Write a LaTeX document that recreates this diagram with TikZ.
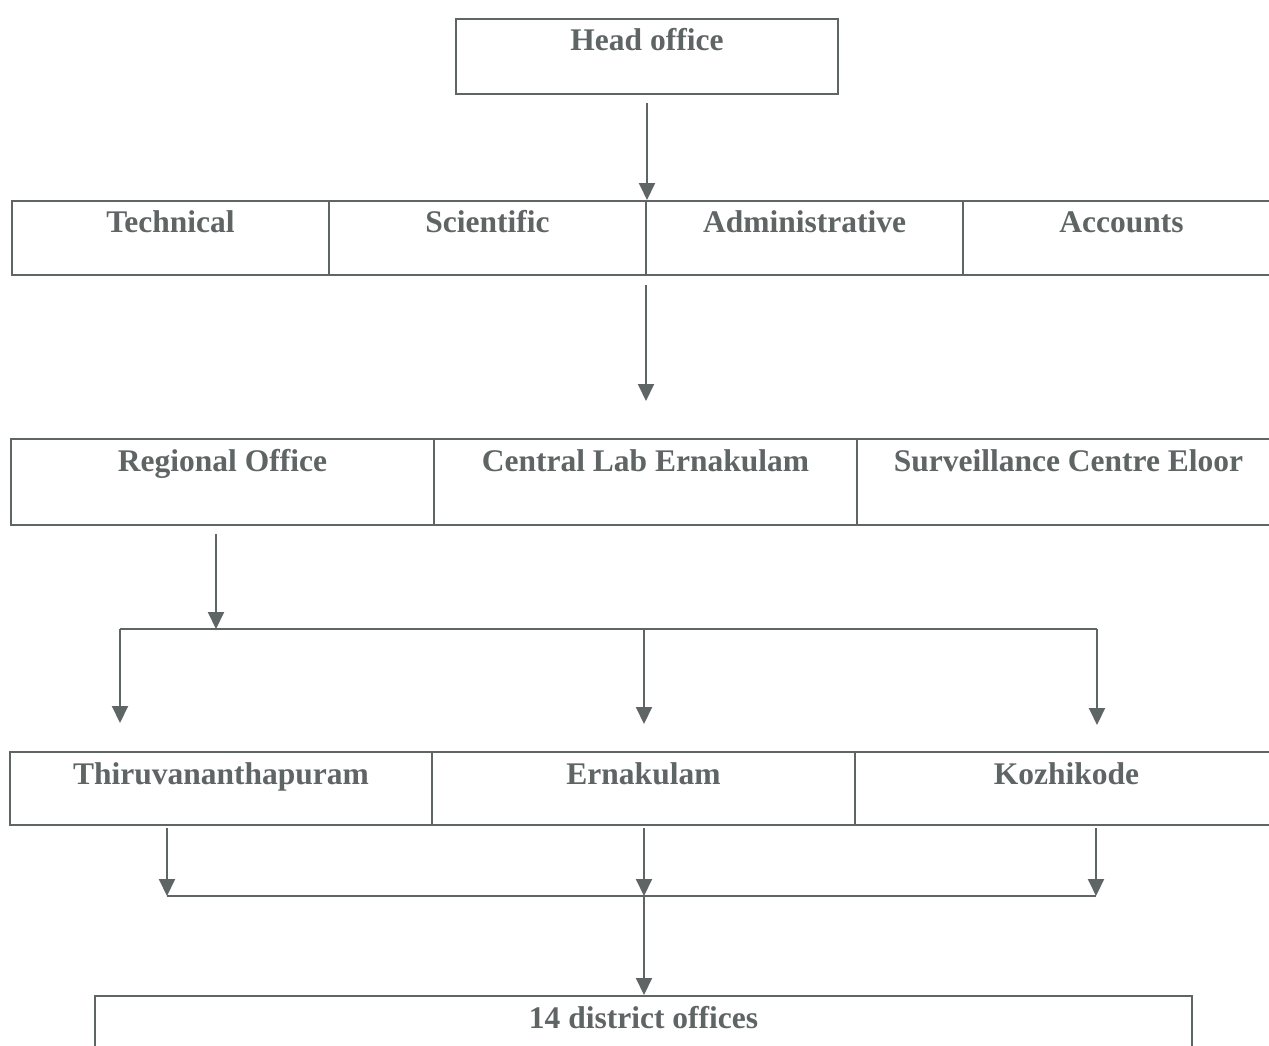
\documentclass[tikz,border=0pt]{standalone}
\usepackage{fontspec}
\setmainfont{Liberation Serif}
\usetikzlibrary{arrows.meta,calc}
\definecolor{ink}{RGB}{95,100,100}
\tikzset{
  org/.style={draw=ink, line width=2pt, text=ink, anchor=north west,
    font=\fontsize{31.5}{38}\selectfont\bfseries,
    inner xsep=0pt, inner ysep=4pt, text height=28pt},
  link/.style={draw=ink, line width=2pt},
  flow/.style={link, -{Triangle[width=16pt,length=17pt]}}
}
\begin{document}
\begin{tikzpicture}[x=1pt,y=-1pt]
\clip (0,0) rectangle (1269,1046);
\fill[white] (0,0) rectangle (1269,1046);

% head office
\node[org, minimum width=382pt, text depth=39pt] (head) at (455,18) {Head office};

% departments
\node[org, minimum width=317pt, text height=27pt, text depth=39pt] (tech) at (11,200) {Technical};
\node[org, minimum width=317pt, text height=27pt, text depth=39pt] (sci)  at (328,200) {Scientific};
\node[org, minimum width=317pt, text height=27pt, text depth=39pt] (adm)  at (645,200) {Administrative};
\node[org, minimum width=317pt, text height=27pt, text depth=39pt] (acc)  at (962,200) {Accounts};

% centres
\node[org, minimum width=423pt, text depth=50pt] (reg) at (10,438) {Regional Office};
\node[org, minimum width=423pt, text depth=50pt] (lab) at (433,438) {Central Lab Ernakulam};
\node[org, minimum width=423pt, text depth=50pt] (sur) at (856,438) {Surveillance Centre Eloor};

% regional offices
\node[org, minimum width=422pt, text depth=37pt] (tvm) at (9,751) {Thiruvananthapuram};
\node[org, minimum width=423pt, text depth=37pt] (ekm) at (431,751) {Ernakulam};
\node[org, minimum width=423pt, text depth=37pt] (kzk) at (854,751) {Kozhikode};

% district offices
\node[org, minimum width=1097pt, text depth=60pt] (dist) at (94,995) {14 district offices};

% connector ends
\coordinate (c2) at (646,401);
\coordinate (busR) at (216,629);
\coordinate (busL) at (120,629);
\coordinate (busE) at (1097,629);
\coordinate (busM) at (644,629);
\coordinate (tTvm) at (120,723);
\coordinate (tEkm) at (644,724);
\coordinate (tKzk) at (1097,725);
\coordinate (b2L) at (167,896);
\coordinate (b2M) at (644,896);
\coordinate (b2R) at (1096,896);

% head office to departments
\draw[flow, shorten <=8pt] (head.south -| sci.north east) -- (sci.north east);
% departments to centres
\draw[flow, shorten <=9pt] (c2 |- sci.south) -- (c2);
% regional office to its bus
\draw[flow, shorten <=8pt] (reg.south -| busR) -- (busR);
\draw[link] (busL) -- (busE);
\draw[flow] (busL) -- (tTvm);
\draw[flow] (busM) -- (tEkm);
\draw[flow] (busE) -- (tKzk);
% regional offices to district offices
\draw[flow, shorten <=2pt] (tvm.south -| b2L) -- (b2L);
\draw[flow, shorten <=2pt] (ekm.south -| b2M) -- (b2M);
\draw[flow, shorten <=2pt] (kzk.south -| b2R) -- (b2R);
\draw[link] (b2L) -- (b2R);
\draw[flow] (b2M) -- (dist.north -| b2M);
\end{tikzpicture}
\end{document}
